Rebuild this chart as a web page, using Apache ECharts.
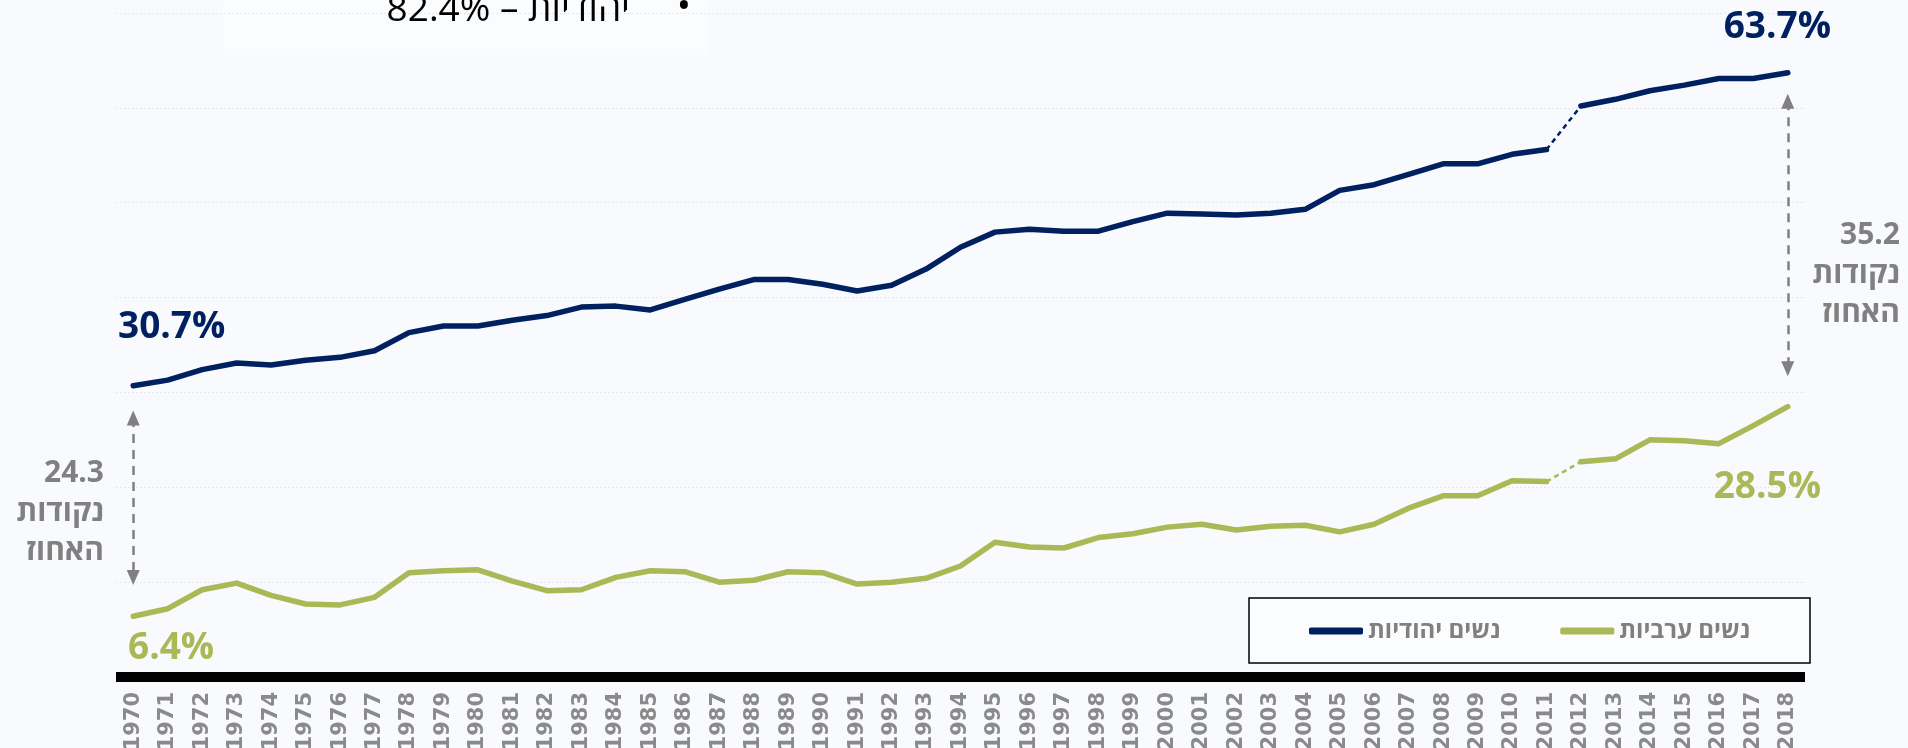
<!DOCTYPE html>
<html>
<head>
<meta charset="utf-8">
<script src="https://cdn.jsdelivr.net/npm/echarts@6/dist/echarts.min.js"></script>
<style>
  html, body { margin: 0; padding: 0; background: #f8fafd; }
  #chart { width: 1908px; height: 748px; }
</style>
</head>
<body>
<div id="chart"></div>
<script>
// שיעור נשים - יהודיות מול ערביות, 1970-2018
const years = [
  '1970','1971','1972','1973','1974','1975','1976','1977','1978','1979',
  '1980','1981','1982','1983','1984','1985','1986','1987','1988','1989',
  '1990','1991','1992','1993','1994','1995','1996','1997','1998','1999',
  '2000','2001','2002','2003','2004','2005','2006','2007','2008','2009',
  '2010','2011','2012','2013','2014','2015','2016','2017','2018'
];
const jewishWomen = [
  30.7, 31.3, 32.4, 33.1, 32.9, 33.4, 33.7, 34.4, 36.3, 37.0,
  37.0, 37.6, 38.1, 39.0, 39.1, 38.7, 39.8, 40.9, 41.9, 41.9,
  41.4, 40.7, 41.3, 43.0, 45.3, 46.9, 47.2, 47.0, 47.0, 48.0,
  48.9, 48.8, 48.7, 48.9, 49.3, 51.3, 51.9, 53.0, 54.1, 54.1,
  55.1, 55.6, 60.2, 60.9, 61.8, 62.4, 63.1, 63.1, 63.7
];
const arabWomen = [
  6.4, 7.2, 9.2, 9.9, 8.6, 7.7, 7.6, 8.4, 11.0, 11.2,
  11.3, 10.1, 9.1, 9.2, 10.5, 11.2, 11.1, 10.0, 10.2, 11.1,
  11.0, 9.8, 10.0, 10.4, 11.7, 14.2, 13.7, 13.6, 14.7, 15.1,
  15.8, 16.1, 15.5, 15.9, 16.0, 15.3, 16.1, 17.8, 19.1, 19.1,
  20.7, 20.6, 22.7, 23.0, 25.0, 24.9, 24.6, 26.5, 28.5
];
// שבר בסדרה בין 2011 ל-2012 (קו מקווקו)
const breakFrom = years.indexOf('2011');
const breakTo = years.indexOf('2012');

const JEW = 'נשים יהודיות';
const ARAB = 'נשים ערביות';
const NAVY = '#002060';
const GREEN = '#aab955';
const GRAY = '#808080';
const FONT = '"Open Sans", "DejaVu Sans", sans-serif';

const part = (data, from, to) => data.map((v, i) => (i >= from && i <= to ? v : null));

const lineSeries = (name, color, data, from, to, dashed, extra) => Object.assign({
  name: name,
  type: 'line',
  data: part(data, from, to),
  symbol: 'none',
  connectNulls: false,
  itemStyle: { color: color },
  lineStyle: dashed
    ? { color: color, width: 2.5, type: [5, 4] }
    : { color: color, width: 5.5, cap: 'round', join: 'round' },
  z: 3
}, extra || {});

const last = years.length - 1;

const chart = echarts.init(document.getElementById('chart'));

const option = {
  backgroundColor: '#f8fafd',
  animation: false,
  grid: { left: 116, right: 103, top: 13, bottom: 71, outerBoundsMode: 'none' },
  xAxis: {
    type: 'category',
    data: years,
    boundaryGap: true,
    axisLine: { show: true, lineStyle: { color: '#000', width: 10, cap: 'butt' } },
    axisTick: { show: false },
    axisLabel: {
      rotate: 90,
      interval: 0,
      margin: 15,
      color: '#8a8a8a',
      fontSize: 21,
      fontWeight: 'bold',
      fontFamily: '"DejaVu Sans", sans-serif'
    }
  },
  yAxis: {
    type: 'value',
    min: 0,
    max: 70,
    interval: 10,
    axisLine: { show: false },
    axisTick: { show: false },
    axisLabel: { show: false },
    splitLine: { lineStyle: { color: '#e4e7ec', type: [2, 2], width: 1 } }
  },
  legend: {
    data: [JEW, ARAB],
    left: 1309,
    top: 619,
    icon: 'roundRect',
    itemWidth: 54,
    itemHeight: 7,
    itemGap: 60,
    padding: 0,
    textStyle: { color: GRAY, fontSize: 24, fontWeight: 'bold', fontFamily: FONT }
  },
  series: [
    lineSeries(JEW, NAVY, jewishWomen, 0, breakFrom, false),
    lineSeries(JEW, NAVY, jewishWomen, breakFrom, breakTo, true),
    lineSeries(JEW, NAVY, jewishWomen, breakTo, last, false),
    lineSeries(ARAB, GREEN, arabWomen, 0, breakFrom, false, {
      markLine: {
        silent: true,
        symbol: ['triangle', 'triangle'],
        symbolSize: [13, 15],
        label: { show: false },
        lineStyle: { color: GRAY, width: 2.5, type: [9, 7] },
        itemStyle: { color: GRAY },
        data: [
          [{ coord: [years[0], 27.3] }, { coord: [years[0], 10.5] }],
          [{ coord: [years[last], 60.7] }, { coord: [years[last], 32.5] }]
        ]
      }
    }),
    lineSeries(ARAB, GREEN, arabWomen, breakFrom, breakTo, true),
    lineSeries(ARAB, GREEN, arabWomen, breakTo, last, false)
  ],
  graphic: [
    // תיבה חתוכה בראש הגרף
    { type: 'rect', shape: { x: 223, y: 0, width: 485, height: 55 }, style: { fill: '#fbfcfe' }, z: 0 },
    { type: 'text', x: 630, y: 10, style: { text: '82.4% – יהודיות', align: 'right', verticalAlign: 'middle', fontSize: 37, fontFamily: FONT, fill: '#000' }, z: 1 },
    { type: 'text', x: 684, y: 8, style: { text: '•', align: 'center', verticalAlign: 'middle', fontSize: 38, fontFamily: FONT, fill: '#000' }, z: 1 },
    // מסגרת המקרא
    { type: 'rect', shape: { x: 1249, y: 598, width: 561, height: 65 }, style: { fill: '#fbfcfe', stroke: '#000', lineWidth: 1.5 }, z: 0 },
    // תוויות ערכים
    { type: 'text', x: 118, y: 327, style: { text: '30.7%', align: 'left', verticalAlign: 'middle', fontSize: 37, fontWeight: 'bold', fontFamily: FONT, fill: NAVY }, z: 5 },
    { type: 'text', x: 1831, y: 27, style: { text: '63.7%', align: 'right', verticalAlign: 'middle', fontSize: 37, fontWeight: 'bold', fontFamily: FONT, fill: NAVY }, z: 5 },
    { type: 'text', x: 128, y: 648, style: { text: '6.4%', align: 'left', verticalAlign: 'middle', fontSize: 37, fontWeight: 'bold', fontFamily: FONT, fill: GREEN }, z: 5 },
    { type: 'text', x: 1821, y: 487, style: { text: '28.5%', align: 'right', verticalAlign: 'middle', fontSize: 37, fontWeight: 'bold', fontFamily: FONT, fill: GREEN }, z: 5 },
    // פערים
    { type: 'text', x: 104, y: 512, style: { text: '24.3\nנקודות\nהאחוז', align: 'right', verticalAlign: 'middle', lineHeight: 39, fontSize: 30, fontWeight: 'bold', fontFamily: FONT, fill: GRAY }, z: 5 },
    { type: 'text', x: 1900, y: 274, style: { text: '35.2\nנקודות\nהאחוז', align: 'right', verticalAlign: 'middle', lineHeight: 39, fontSize: 30, fontWeight: 'bold', fontFamily: FONT, fill: GRAY }, z: 5 }
  ]
};

chart.setOption(option);
</script>
</body>
</html>
